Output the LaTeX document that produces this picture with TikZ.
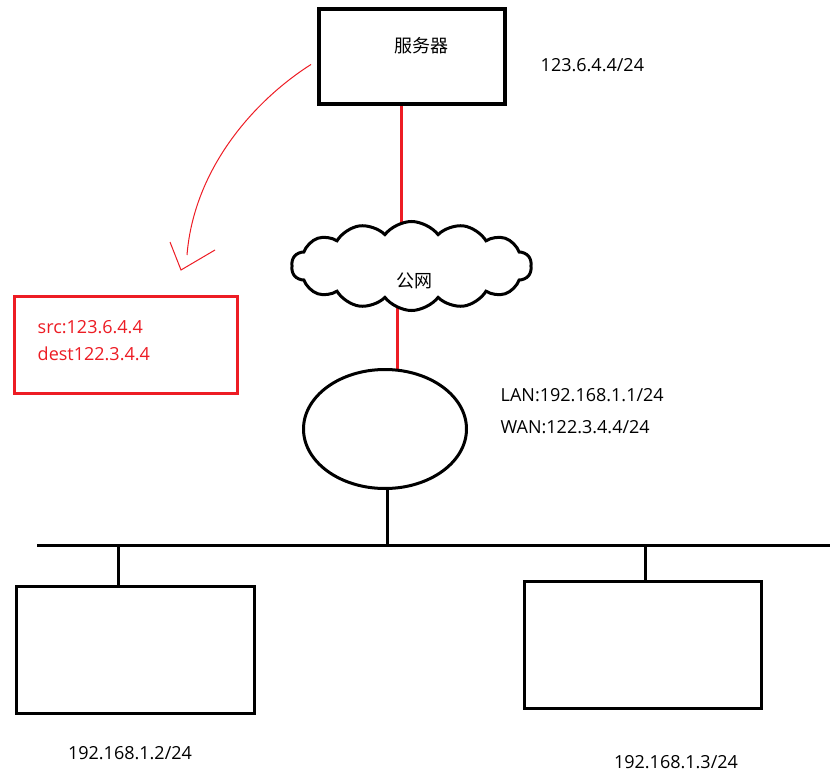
\documentclass[tikz,border=0pt]{standalone}
\usepackage{fontspec}
\setmainfont{Open Sans}
\newfontfamily\cjk{Noto Sans CJK SC}
\usetikzlibrary{shapes.geometric, shapes.symbols, backgrounds, positioning}
\tikzset{every picture/.append style={thick}}
\definecolor{netred}{RGB}{237,28,36}

\begin{document}
\begin{tikzpicture}[x=1pt, y=-1pt, font=\fontsize{18}{22}\selectfont,
    box/.style={draw, rectangle, line width=3pt, fill=white, inner sep=0pt},
    cjklabel/.style={font={\cjk\fontsize{18}{22}\selectfont}},
    redwire/.style={netred, line width=3pt},
    wire/.style={black, line width=3pt}]
    \useasboundingbox (0,0) rectangle (831,779);

    % Server and public network
    \node[box, line width=4pt, minimum width=186pt, minimum height=95pt] (server) at (412,56.5) {};
    \node[cjklabel] (serverlbl) at (421,46) {服务器};
    \node[anchor=west] (serverip) at (537,65) {123.6.4.4/24};
    \node[cloud, draw, fill=white, line width=3pt, cloud puffs=14, cloud puff arc=105, aspect=2.7,
          minimum width=240pt, minimum height=89pt, inner sep=0pt] (cloud) at (411.5,266) {};
    \node[cjklabel] (cloudlbl) at (414,281) {公网};

    % Router
    \node[ellipse, draw, fill=white, line width=3pt, minimum width=163pt, minimum height=119pt] (router) at (385,429) {};
    \node[anchor=west, align=left, font=\fontsize{18}{32}\selectfont] (routerip) at (497,411) {LAN:192.168.1.1/24\\WAN:122.3.4.4/24};

    % Packet seen by the server
    \node[box, draw=netred, minimum width=223pt, minimum height=97pt] (packet) at (126,345) {};
    \node[anchor=west, align=left, netred, font=\fontsize{18}{27}\selectfont] (packetlbl) at (34,340.5) {src:123.6.4.4\\dest122.3.4.4};

    % Hosts
    \node[box, minimum width=238pt, minimum height=127pt] (hostA) at (135.5,650) {};
    \node[box, minimum width=237pt, minimum height=127pt] (hostB) at (643,645) {};
    \node (hostAip) at (130,753) {192.168.1.2/24};
    \node (hostBip) at (676,762) {192.168.1.3/24};

    % Links
    \begin{scope}[on background layer]
        \draw[redwire] ([xshift=-11pt]server.south) -- ([xshift=-10.5pt]cloud.center);
        \draw[redwire] ([xshift=-14.5pt]cloud.center) -- ([xshift=12pt]router.center);
    \end{scope}
    \coordinate (busL) at (37,545);
    \coordinate (busR) at (830,545);
    \coordinate (tapA) at (118,545);
    \coordinate (tapB) at (645,545);
    \draw[wire] (busL) -- (busR);
    \draw[wire] ([xshift=2pt]router.south) -- ([xshift=2pt]router.south |- busL);
    \draw[wire] (tapA) -- (tapA |- hostA.north);
    \draw[wire] (tapB) -- (tapB |- hostB.north);

    % Hand-drawn arrow
    \coordinate (arrowend) at (187,255);
    \coordinate (tip) at (181,270);
    \draw[netred, line width=1pt] ([xshift=-6pt, yshift=-8pt]server.west) .. controls (255,100) and (194,168) .. (arrowend);
    \draw[netred, line width=1pt] (tip) ++(-11,-28) -- (tip) -- ++(34,-20);
\end{tikzpicture}
\end{document}
